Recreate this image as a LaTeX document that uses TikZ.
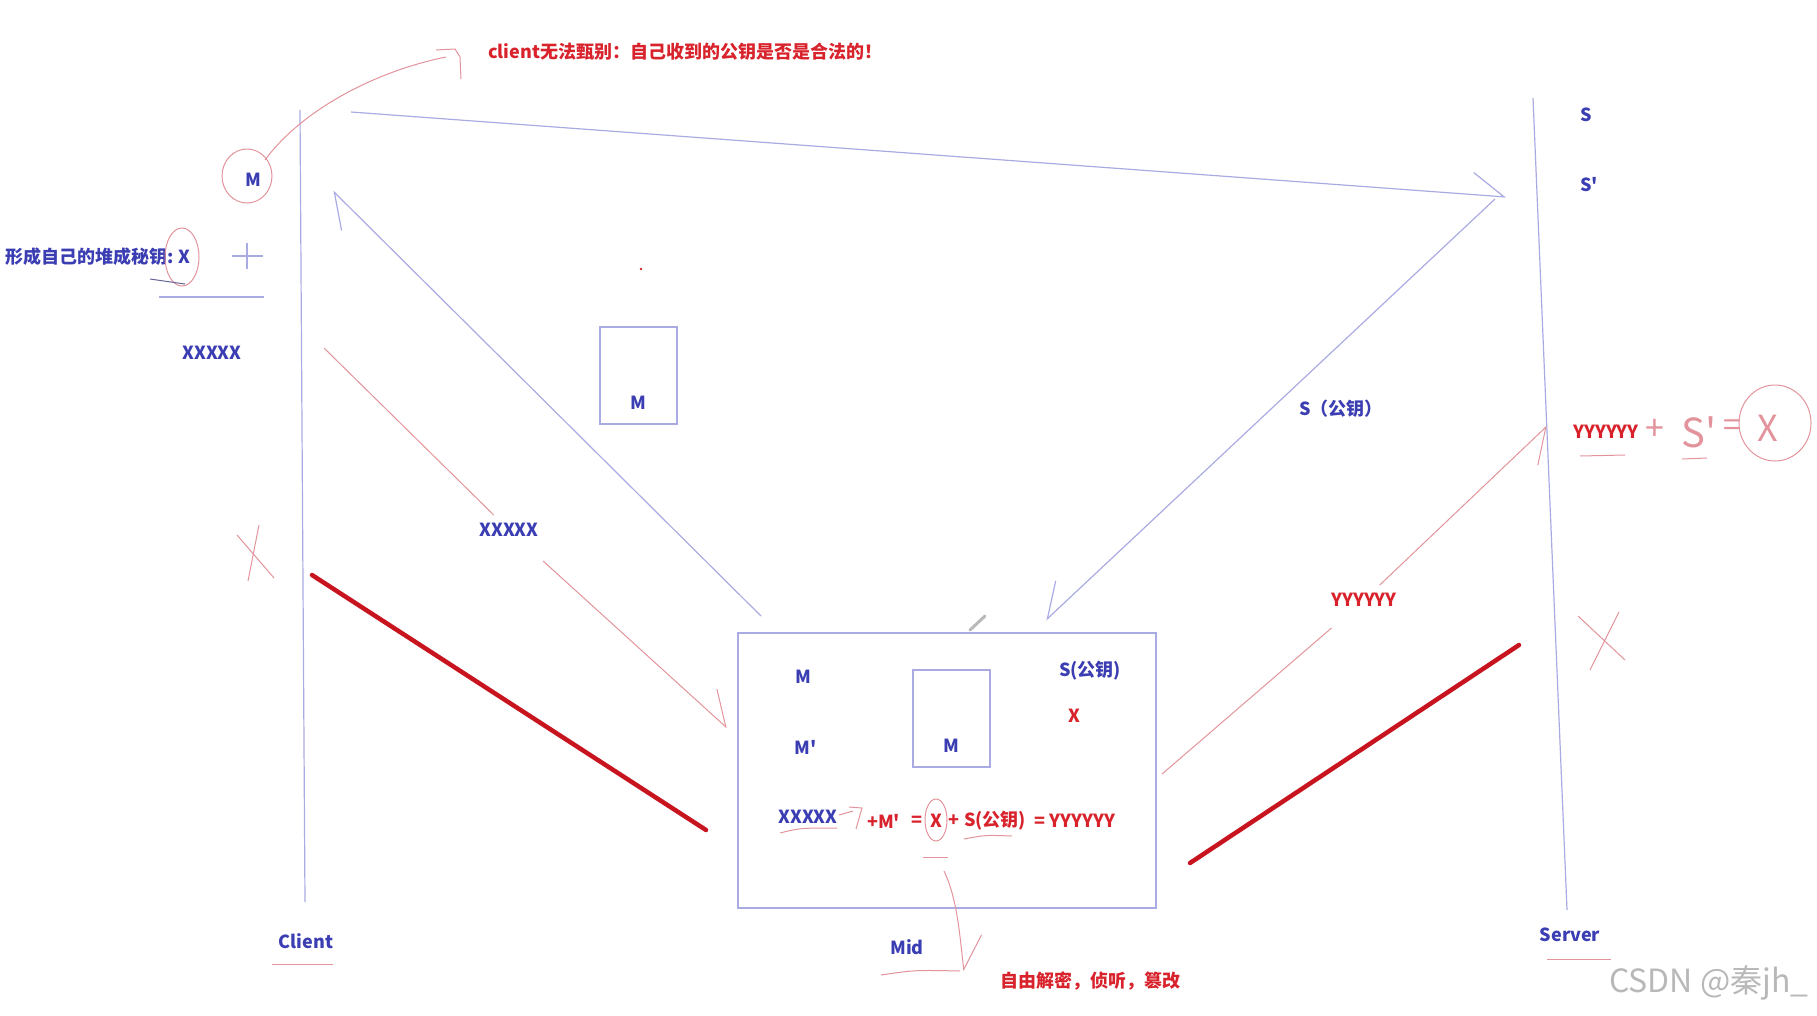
\documentclass[tikz,border=0pt]{standalone}
\usepackage{fontspec}
\setmainfont{Noto Sans CJK SC}
\usepackage{tikz}
\usetikzlibrary{arrows.meta,positioning}
\definecolor{mmink} {HTML}{3B3DB2}
\definecolor{mmline}{HTML}{A9ABE2}
\definecolor{mmred} {HTML}{D8232C}
\definecolor{mmpen} {HTML}{E2939B}
\definecolor{mmcut} {HTML}{C8141E}
\definecolor{mmwm}  {HTML}{B8B8B8}
\newcommand{\mmq}{\textquotesingle}
\tikzset{
  blu/.style={text=mmink, font=\bfseries\fontsize{18}{18}\selectfont, inner sep=1pt},
  rd/.style={blu, text=mmred},
  hand/.style={text=mmpen, inner sep=0pt},
  lane/.style={draw=mmline, line width=1.2pt},
  pen/.style={draw=mmpen, line width=1pt},
  cut/.style={draw=mmcut, line width=4.5pt, line cap=round},
  boxed/.style={draw=mmline, line width=1.3pt, inner sep=0pt},
  tipL/.style={-{Straight Barb[harpoon, length=32pt, width=44pt]}},
  tipR/.style={-{Straight Barb[harpoon, swap, length=32pt, width=44pt]}}
}

\begin{document}
\begin{tikzpicture}[x=1pt, y=-1pt]
  \useasboundingbox (0,0) rectangle (1817,1015);

  % lifelines
  \coordinate (cl-top) at (300,110);  \coordinate (cl-bot) at (305,902);
  \coordinate (sv-top) at (1533,98);  \coordinate (sv-bot) at (1567,910);
  \draw[lane] (cl-top) -- (cl-bot);
  \draw[lane] (sv-top) -- (sv-bot);
  \node[blu] (client) at (306,941) {Client};
  \node[blu] (server) at (1570,935) {Server};
  \draw[pen] (272,964) -- (333,964);
  \draw[pen] (1547,959) -- (1611,959);

  % client side
  \node[rd, anchor=west] (warn) at (487,52) {client无法甄别：自己收到的公钥是否是合法的！};
  \node[blu] (cm) at (253,180) {M};
  \draw[pen] (247,176) ellipse [x radius=25, y radius=27];
  \draw[pen] (265,160) .. controls (300,112) and (372,72) .. (446,57);
  \draw[pen] (436,50) -- (455,49) -- (460,57) -- (461,79);
  \node[blu, anchor=east] (own) at (192,257) {形成自己的堆成秘钥: X};
  \draw[pen] (182,257) ellipse [x radius=17, y radius=29];
  \draw[gray!60!mmink, line width=1pt] (150,279) -- (185,284);
  \draw[lane] (232,256) -- (263,256) (247,243) -- (247,269);
  \draw[lane] (159,297) -- (264,297);
  \node[blu] (cx) at (212,353) {XXXXX};
  \draw[pen] (237,535) -- (274,578) (259,525) -- (248,581);
  \draw[cut] (312,575) -- (706,830);

  \fill[mmred] (641,269) circle (1.3);
  \node[boxed, minimum width=77pt, minimum height=97pt] (mbox) at (638.5,375.5) {};
  \node[blu, above=14pt of mbox.south] {M};

  % server side
  \node[blu] (s1) at (1586,115) {S};
  \node[blu] (s2) at (1589,185) {S\mmq};
  \node[rd] (sy) at (1606,432) {YYYYYY};
  \draw[pen] (1580,456) -- (1625,455);
  \node[hand, font=\fontsize{34}{34}\selectfont] (splus) at (1655,430) {+};
  \node[hand, font=\fontsize{40}{40}\selectfont, anchor=west] (ss) at (1681,432) {S\mmq};
  \draw[pen] (1682,459) -- (1707,458);
  \node[hand, font=\fontsize{32}{32}\selectfont] (seq) at (1732,428) {=};
  \node[hand, font=\fontsize{36}{36}\selectfont] (sx) at (1768,428) {X};
  \draw[pen] (1775,423) ellipse [x radius=36, y radius=38];
  \draw[pen] (1578,616) -- (1625,660) (1619,612) -- (1590,670);
  \draw[cut] (1190,863) -- (1519,645);

  % mid box
  \node[boxed, minimum width=418pt, minimum height=275pt] (midbox) at (947,770.5) {};
  \node[blu] (mm) at (803,677) {M};
  \node[blu] (mp) at (806,747) {M\mmq};
  \node[boxed, minimum width=77pt, minimum height=97pt] (ibox) at (951.5,718.5) {};
  \node[blu, above=14pt of ibox.south] {M};
  \node[blu] (mspub) at (1090,671) {S(公钥)};
  \node[rd] (mkx) at (1074,716) {X};
  \node[blu] (eqx) at (808,817) {XXXXX};
  \node[rd, anchor=west] (eqm) at (866,821) {+M\mmq};
  \node[rd] (eqe1) at (917,821) {=};
  \node[rd] (eqk) at (936,821) {X};
  \node[rd] (eqp) at (954,821) {+};
  \node[rd, anchor=west] (eqs) at (963,821) {S(公钥)};
  \node[rd, anchor=west] (eqy) at (1033,821) {= YYYYYY};
  \draw[pen] (936,820) ellipse [x radius=11, y radius=21];
  \draw[pen] (839,815) -- (853,811) (849,807) -- (862,808) -- (856,829);
  \draw[pen] (780,833) .. controls (800,828) .. (837,828);
  \draw[pen] (923,857) -- (948,857);
  \draw[pen] (964,839) .. controls (985,835) .. (1012,836);
  \coordinate (dn-s) at (944,871);
  \coordinate (dn-e) at (964,971);
  \draw[pen, tipL] (dn-s) .. controls (958,900) and (960,940) .. (dn-e);
  \node[blu] (mid) at (907,947) {Mid};
  \draw[pen] (881,975) .. controls (915,970) .. (960,971);
  \node[rd] (tamper) at (1090,981) {自由解密，侦听，篡改};
  \draw[gray!55, line width=3pt, line cap=round] (970,630) -- (985,616);

  % messages
  \coordinate (a1s) at (351,112);  \coordinate (a1e) at (1506,197);
  \coordinate (a2s) at (1495,199); \coordinate (a2e) at (1046,620);
  \coordinate (a3s) at (761,616);  \coordinate (a3e) at (333,191);
  \coordinate (a4s) at (324,348);  \coordinate (a4e) at (727,728);
  \coordinate (a5s) at (1162,774); \coordinate (a5e) at (1547,426);
  \draw[lane, tipL] (a1s) -- (a1e);
  \draw[lane, tipR] (a2s) -- (a2e);
  \node[blu, anchor=west] (spub) at (1298,409) {S（公钥）};
  \draw[lane, tipL] (a3s) -- (a3e);
  \node[blu, inner sep=8pt] (xmsg) at (509,530) {XXXXX};
  \draw[pen] (a4s) -- (xmsg);
  \draw[pen, tipL, shorten <=24pt] (xmsg) -- (a4e);
  \node[rd, inner sep=8pt] (ymsg) at (1364,600) {YYYYYY};
  \draw[pen, shorten >=20pt] (a5s) -- (ymsg);
  \draw[pen, tipR] (ymsg) -- (a5e);

  \node[text=mmwm, font=\fontsize{32}{32}\selectfont, anchor=east] (wm) at (1812,983) {CSDN @秦jh\_};
\end{tikzpicture}
\end{document}
